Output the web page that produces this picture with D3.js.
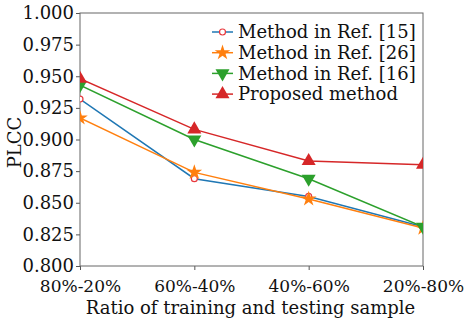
<!DOCTYPE html>
<html lang="en">
<head>
<meta charset="UTF-8">
<title>PLCC vs ratio</title>
<style>
    body { margin: 0; background: #fff; }
    text { font-family: "DejaVu Serif", serif; fill: #111; }
</style>
</head>
<body>
<svg width="465" height="326"></svg>
<script src="https://d3js.org/d3.v7.min.js"></script>
<script>
    const categories = ["80%-20%", "60%-40%", "40%-60%", "20%-80%"];
    const ref15 = [0.932, 0.869, 0.855, 0.831];
    const ref26 = [0.917, 0.874, 0.853, 0.830];
    const ref16 = [0.943, 0.900, 0.869, 0.831];
    const proposed = [0.948, 0.908, 0.883, 0.880];
    const yTicks = [0.800, 0.825, 0.850, 0.875, 0.900, 0.925, 0.950, 0.975, 1.000];

    const series = [
        { name: "Method in Ref. [15]", values: ref15, color: "#1f77b4", marker: "circle" },
        { name: "Method in Ref. [26]", values: ref26, color: "#ff7f0e", marker: "star" },
        { name: "Method in Ref. [16]", values: ref16, color: "#2ca02c", marker: "down" },
        { name: "Proposed method", values: proposed, color: "#d62728", marker: "up" }
    ];

    const margin = { left: 80, right: 42, top: 13, bottom: 60 };
    const width = 465, height = 326;
    const fs = "18px";
    const svg = d3.select("svg");

    const x = d3.scalePoint().domain(categories).range([margin.left, width - margin.right]);
    const y = d3.scaleLinear().domain([0.8, 1.0]).range([height - margin.bottom, margin.top]);

    svg.append("clipPath").attr("id", "clip")
        .append("rect")
        .attr("x", margin.left).attr("y", margin.top)
        .attr("width", width - margin.left - margin.right)
        .attr("height", height - margin.top - margin.bottom);

    // axes
    const yAxis = svg.append("g")
        .attr("transform", `translate(${margin.left},0)`)
        .call(d3.axisLeft(y).tickValues(yTicks).tickFormat(d3.format(".3f")).tickSize(4).tickPadding(2));
    const xAxis = svg.append("g")
        .attr("transform", `translate(0,${height - margin.bottom})`)
        .call(d3.axisBottom(x).tickSize(4).tickPadding(10));
    [xAxis, yAxis].forEach(a => {
        a.select(".domain").remove();
        a.selectAll("line").attr("stroke", "#555");
        a.selectAll("text").style("font-size", fs).attr("fill", "#111");
    });
    xAxis.selectAll("text").style("font-size", "17px");

    svg.append("rect")
        .attr("x", margin.left).attr("y", margin.top)
        .attr("width", width - margin.left - margin.right)
        .attr("height", height - margin.top - margin.bottom)
        .attr("fill", "none").attr("stroke", "#666").attr("stroke-width", 1);

    svg.append("text")
        .attr("x", (margin.left + width - margin.right) / 2 - 1)
        .attr("y", 314)
        .attr("text-anchor", "middle")
        .style("font-size", fs)
        .text("Ratio of training and testing sample");

    svg.append("text")
        .attr("transform", `translate(21,${(margin.top + height - margin.bottom) / 2 + 3}) rotate(-90)`)
        .attr("text-anchor", "middle")
        .style("font-size", fs)
        .text("PLCC");

    function markerPath(type) {
        if (type === "star") return d3.symbol(d3.symbolStar, 75)();
        if (type === "up") return d3.symbol(d3.symbolTriangle, 85)();
        if (type === "down") return d3.symbol(d3.symbolTriangle, 85)();
        return d3.symbol(d3.symbolCircle, 28)();
    }

    function drawMarker(g, s, cx, cy) {
        const p = g.append("path")
            .attr("d", markerPath(s.marker))
            .attr("transform", `translate(${cx},${cy})` + (s.marker === "down" ? " rotate(180)" : ""));
        if (s.marker === "circle") {
            p.attr("fill", "#fff").attr("stroke", "#e8383d").attr("stroke-width", 1.2);
        } else {
            p.attr("fill", s.color);
        }
    }

    const line = d3.line().x((d, i) => x(categories[i])).y(d => y(d));
    const plot = svg.append("g").attr("clip-path", "url(#clip)");

    series.forEach(s => {
        plot.append("path")
            .datum(s.values)
            .attr("d", line)
            .attr("fill", "none")
            .attr("stroke", s.color)
            .attr("stroke-width", 1.5);
        s.values.forEach((v, i) => drawMarker(plot, s, x(categories[i]), y(v)));
    });

    // legend
    const legend = svg.append("g").attr("transform", "translate(212,32)");
    series.forEach((s, i) => {
        const row = legend.append("g").attr("transform", `translate(0,${i * 20.7})`);
        row.append("line")
            .attr("x1", 0).attr("x2", 21).attr("y1", 0).attr("y2", 0)
            .attr("stroke", s.color).attr("stroke-width", 1.5);
        drawMarker(row, s, 10.5, 0);
        row.append("text")
            .attr("x", 26).attr("y", 0).attr("dy", "0.35em")
            .style("font-size", fs)
            .text(s.name);
    });
</script>
</body>
</html>
